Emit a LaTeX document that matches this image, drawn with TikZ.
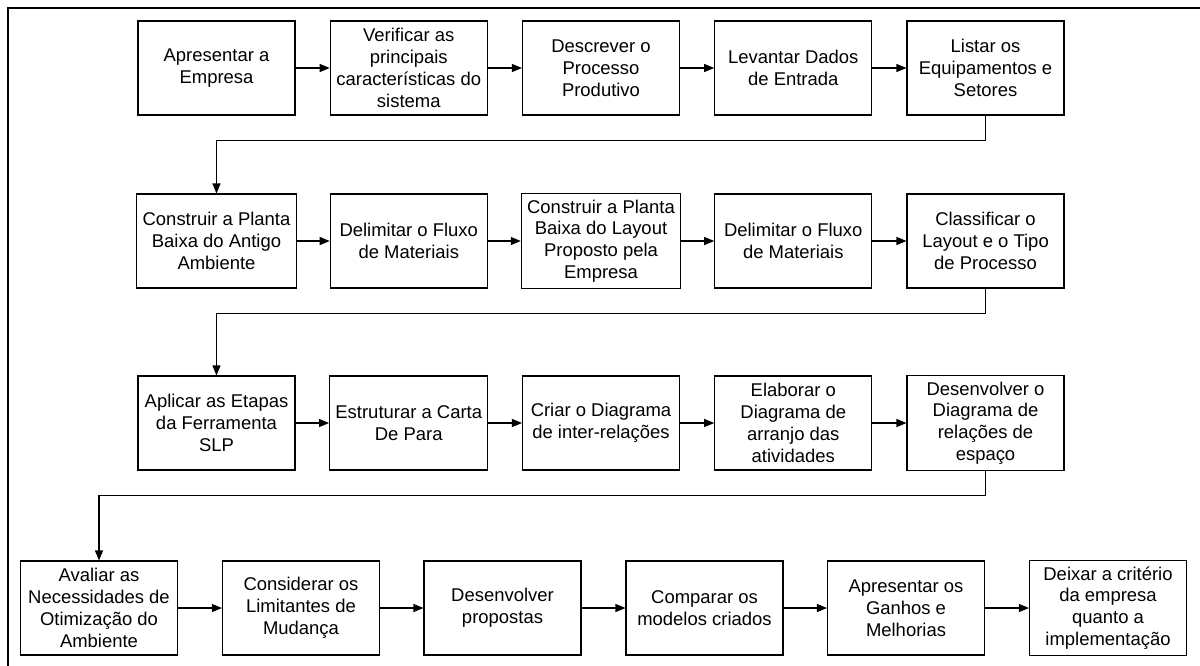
\documentclass[tikz,border=0pt]{standalone}
\usepackage{fontspec}
\setmainfont{Liberation Sans}
\usepackage{tikz}
\usetikzlibrary{arrows.meta,positioning}

\begin{document}
\begin{tikzpicture}[
  stepbox/.style={draw, line width=0.6pt, minimum width=3.14cm, minimum height=1.88cm, fill=white, align=center, font=\fontsize{10.5}{12.4}\selectfont},
  flow/.style={draw, line width=0.6pt, -{Triangle[length=2mm, width=1.6mm]}}
]
\useasboundingbox (0,0) rectangle (24,-13.3);
\draw[line width=1pt] (0.16,-0.16) rectangle (24.6,-13.8);

% linha 1
\node[stepbox] (a1) at (4.33,-1.36) {Apresentar a\\Empresa};
\node[stepbox] (a2) at (8.175,-1.36) {Verificar as\\principais\\características do\\sistema};
\node[stepbox] (a3) at (12.02,-1.36) {Descrever o\\Processo\\Produtivo};
\node[stepbox] (a4) at (15.865,-1.36) {Levantar Dados\\de Entrada};
\node[stepbox] (a5) at (19.71,-1.36) {Listar os\\Equipamentos e\\Setores};

% linha 2
\node[stepbox] (b1) at (4.33,-4.82) {Construir a Planta\\Baixa do Antigo\\Ambiente};
\node[stepbox] (b2) at (8.175,-4.82) {Delimitar o Fluxo\\de Materiais};
\node[stepbox] (b3) at (12.02,-4.82) {Construir a Planta\\Baixa do Layout\\Proposto pela\\Empresa};
\node[stepbox] (b4) at (15.865,-4.82) {Delimitar o Fluxo\\de Materiais};
\node[stepbox] (b5) at (19.71,-4.82) {Classificar o\\Layout e o Tipo\\de Processo};

% linha 3
\node[stepbox] (c1) at (4.33,-8.46) {Aplicar as Etapas\\da Ferramenta\\SLP};
\node[stepbox] (c2) at (8.175,-8.46) {Estruturar a Carta\\De Para};
\node[stepbox] (c3) at (12.02,-8.46) {Criar o Diagrama\\de inter-relações};
\node[stepbox] (c4) at (15.865,-8.46) {Elaborar o\\Diagrama de\\arranjo das\\atividades};
\node[stepbox] (c5) at (19.71,-8.46) {Desenvolver o\\Diagrama de\\relações de\\espaço};

% linha 4
\node[stepbox] (d1) at (1.98,-12.16) {Avaliar as\\Necessidades de\\Otimização do\\Ambiente};
\node[stepbox] (d2) at (6.02,-12.16) {Considerar os\\Limitantes de\\Mudança};
\node[stepbox] (d3) at (10.05,-12.16) {Desenvolver\\propostas};
\node[stepbox] (d4) at (14.09,-12.16) {Comparar os\\modelos criados};
\node[stepbox] (d5) at (18.12,-12.16) {Apresentar os\\Ganhos e\\Melhorias};
\node[stepbox] (d6) at (22.16,-12.16) {Deixar a critério\\da empresa\\quanto a\\implementação};

\draw[flow] (a1) -- (a2);
\draw[flow] (a2) -- (a3);
\draw[flow] (a3) -- (a4);
\draw[flow] (a4) -- (a5);
\draw[flow] (a5.south) -- ++(0,-0.5) -| (b1.north);
\draw[flow] (b1) -- (b2);
\draw[flow] (b2) -- (b3);
\draw[flow] (b3) -- (b4);
\draw[flow] (b4) -- (b5);
\draw[flow] (b5.south) -- ++(0,-0.5) -| (c1.north);
\draw[flow] (c1) -- (c2);
\draw[flow] (c2) -- (c3);
\draw[flow] (c3) -- (c4);
\draw[flow] (c4) -- (c5);
\draw[flow] (c5.south) -- ++(0,-0.5) -| (d1.north);
\draw[flow] (d1) -- (d2);
\draw[flow] (d2) -- (d3);
\draw[flow] (d3) -- (d4);
\draw[flow] (d4) -- (d5);
\draw[flow] (d5) -- (d6);
\end{tikzpicture}
\end{document}
